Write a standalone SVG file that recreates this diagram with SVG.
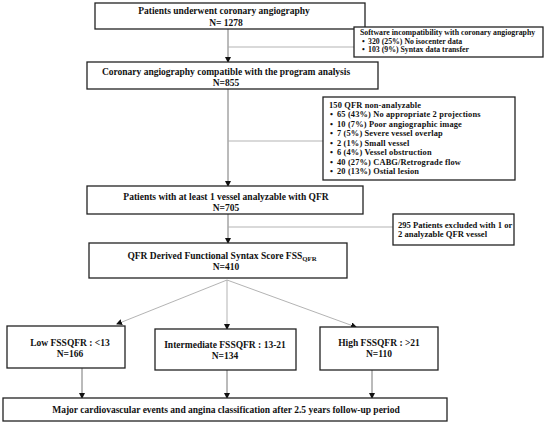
<svg xmlns="http://www.w3.org/2000/svg" width="550" height="424" viewBox="0 0 550 424">
<defs>
<marker id="ah" markerWidth="6" markerHeight="6" refX="5" refY="3" orient="auto" markerUnits="userSpaceOnUse">
<path d="M0,0 L6,3 L0,6 z" fill="#111"/>
</marker>
<style>
.box{fill:#fff;stroke:#222;stroke-width:1.3}
.t{font-family:"Liberation Serif","Times New Roman",serif;font-weight:bold;fill:#111}
.m{font-size:9.5px;text-anchor:middle}
.s{font-size:7.8px}
.s2{font-size:8.4px;letter-spacing:0.15px}
.s3{font-size:8.6px}
.c{fill:none;stroke:#666;stroke-width:0.9}
.d{fill:none;stroke:#aaa;stroke-width:0.9}
</style>
</defs>
<rect width="550" height="424" fill="#fff"/>
<g id="connectors">
<line class="c" x1="228" y1="29" x2="228" y2="62" marker-end="url(#ah)"/>
<line class="c" x1="228" y1="89" x2="228" y2="186" marker-end="url(#ah)"/>
<line class="c" x1="228" y1="214" x2="228" y2="243" marker-end="url(#ah)"/>
<line class="d" x1="228" y1="47" x2="354" y2="47"/>
<line class="d" x1="228" y1="141" x2="323" y2="141"/>
<line class="d" x1="228" y1="227" x2="393" y2="227"/>
<line class="d" x1="227" y1="280" x2="117" y2="324" marker-end="url(#ah)"/>
<line class="d" x1="227" y1="280" x2="227" y2="329" marker-end="url(#ah)"/>
<line class="d" x1="227" y1="280" x2="356" y2="327" marker-end="url(#ah)"/>
<line class="c" x1="82" y1="368" x2="82" y2="398" marker-end="url(#ah)"/>
<line class="c" x1="227" y1="370" x2="227" y2="398" marker-end="url(#ah)"/>
<line class="c" x1="372" y1="370" x2="372" y2="398" marker-end="url(#ah)"/>
</g>
<g id="n1">
<rect class="box" x="95" y="3" width="270" height="26"/>
<text class="t m" x="224" y="14">Patients underwent coronary angiography</text>
<text class="t m" x="226" y="26">N= 1278</text>
</g>
<g id="s1">
<rect class="box" x="354" y="27" width="189" height="30"/>
<text class="t s" x="360" y="35">Software incompatibility with coronary angiography</text>
<text class="t s" y="44"><tspan x="362">•</tspan><tspan x="368">320 (25%) No isocenter data</tspan></text>
<text class="t s" y="52"><tspan x="362">•</tspan><tspan x="368">103 (9%)  Syntax data transfer</tspan></text>
</g>
<g id="n2">
<rect class="box" x="87" y="62" width="291" height="27"/>
<text class="t m" x="226" y="75">Coronary angiography compatible with the program analysis</text>
<text class="t m" x="226" y="85.5">N=855</text>
</g>
<g id="s2">
<rect class="box" x="323" y="97" width="192" height="83"/>
<text class="t s2" x="329" y="107.5">150 QFR non-analyzable</text>
<text class="t s2" y="117"><tspan x="330">•</tspan><tspan x="337">65 (43%)  No appropriate 2 projections</tspan></text>
<text class="t s2" y="126.5"><tspan x="330">•</tspan><tspan x="337">10 (7%)  Poor angiographic image</tspan></text>
<text class="t s2" y="136"><tspan x="330">•</tspan><tspan x="337">7 (5%)  Severe vessel overlap</tspan></text>
<text class="t s2" y="145.5"><tspan x="330">•</tspan><tspan x="337">2 (1%)  Small vessel</tspan></text>
<text class="t s2" y="155"><tspan x="330">•</tspan><tspan x="337">6 (4%)  Vessel obstruction</tspan></text>
<text class="t s2" y="164.5"><tspan x="330">•</tspan><tspan x="337">40 (27%)  CABG/Retrograde flow</tspan></text>
<text class="t s2" y="174"><tspan x="330">•</tspan><tspan x="337">20 (13%)  Ostial lesion</tspan></text>
</g>
<g id="n3">
<rect class="box" x="87" y="186" width="276" height="28"/>
<text class="t m" x="226" y="200">Patients with at least 1 vessel analyzable with QFR</text>
<text class="t m" x="226" y="211">N=705</text>
</g>
<g id="s3">
<rect class="box" x="393" y="214" width="121" height="31"/>
<text class="t s3" x="398" y="227.5">295 Patients excluded with 1 or</text>
<text class="t s3" x="398" y="236.5">2 analyzable QFR vessel</text>
</g>
<g id="n4">
<rect class="box" x="89" y="243" width="258" height="35"/>
<text class="t m" x="222" y="259">QFR Derived Functional Syntax Score FSS<tspan font-size="6.8px" dy="2">QFR</tspan></text>
<text class="t m" x="226" y="270">N=410</text>
</g>
<g id="n5">
<rect class="box" x="7" y="326" width="118" height="42"/>
<text class="t m" x="70" y="346">Low FSSQFR : &lt;13</text>
<text class="t m" x="70" y="357">N=166</text>
</g>
<g id="n6">
<rect class="box" x="155" y="329" width="141" height="41"/>
<text class="t m" x="225" y="348">Intermediate FSSQFR : 13-21</text>
<text class="t m" x="225" y="359">N=134</text>
</g>
<g id="n7">
<rect class="box" x="320" y="327" width="118" height="43"/>
<text class="t m" x="379" y="346">High FSSQFR : &gt;21</text>
<text class="t m" x="379" y="357">N=110</text>
</g>
<g id="n8">
<rect class="box" x="3" y="398" width="444" height="23"/>
<text class="t m" x="226" y="413" font-size="8.6px">Major cardiovascular events and angina classification after 2.5 years follow-up period</text>
</g>
</svg>
